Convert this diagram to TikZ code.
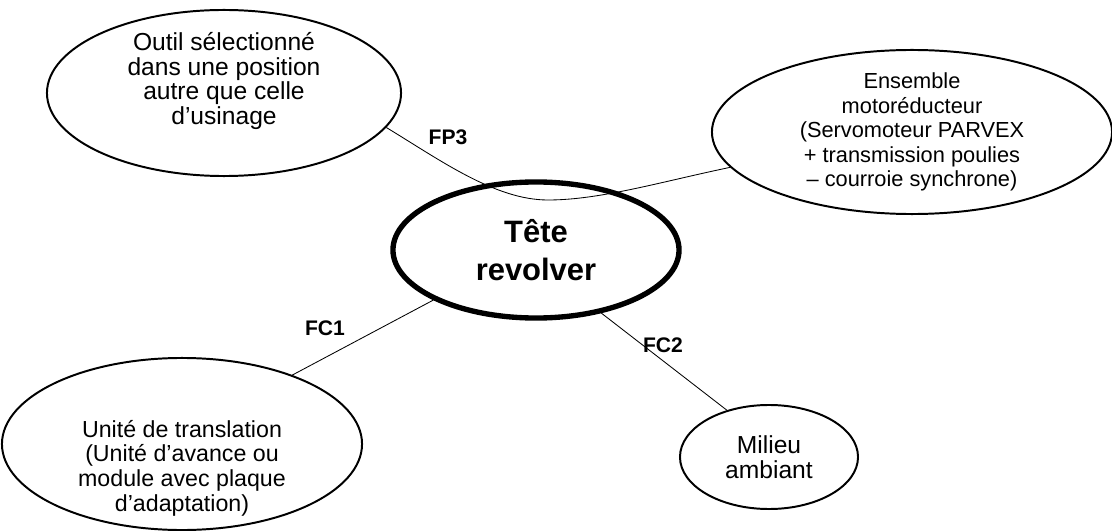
\documentclass[tikz,border=0pt]{standalone}
\usepackage{fontspec}
\setmainfont{Liberation Sans}
\usetikzlibrary{shapes.geometric}
\tikzset{
  ell/.style={ellipse,draw=black,line width=1.4pt,inner sep=0pt},
  hub/.style={ellipse,draw=black,line width=3.8pt,inner sep=0pt},
  txt/.style={align=center,inner sep=0pt,font=\fontsize{#1}{17.5}\selectfont},
  txt/.default=15.5,
  hubtxt/.style={align=center,inner sep=0pt,font=\fontsize{22}{27}\selectfont\bfseries},
  lnk/.style={line width=0.6pt},
  flab/.style={font=\fontsize{15}{17}\selectfont\bfseries},
}
\begin{document}
\begin{tikzpicture}[x=0.025cm,y=-0.025cm]
  \useasboundingbox (0,0) rectangle (1112,531);
  % ellipses
  \node[hub,minimum width=7.15cm,minimum height=3.4cm,
    label={[hubtxt]center:{Tête\\revolver}}] (tete) at (536,250) {};
  \node[ell,minimum width=8.85cm,minimum height=4.15cm,
    label={[txt=17.5,yshift=0.3cm]center:{Outil sélectionné\\dans une position\\autre que celle\\d’usinage}}] (outil) at (224,93) {};
  \node[ell,minimum width=10cm,minimum height=4.1cm,
    label={[txt]center:{Ensemble\\motoréducteur\\(Servomoteur PARVEX\\+ transmission poulies\\– courroie synchrone)}}] (moteur) at (912,132) {};
  \node[ell,minimum width=9cm,minimum height=4.3cm,
    label={[txt=16.5,yshift=-0.6cm]center:{Unité de translation\\(Unité d’avance ou\\module avec plaque\\d’adaptation)}}] (unite) at (182,444) {};
  \node[ell,minimum width=4.45cm,minimum height=2.6cm,
    label={[txt=17.5]center:{Milieu\\ambiant}}] (milieu) at (769,457) {};
  % functions
  \draw[lnk] (outil.-12) .. controls (440,160) and (495,200) .. (548,200)
    .. controls (600,200) and (660,182) .. (moteur.191);
  \draw[lnk] (tete.206) -- (unite.32);
  \draw[lnk] (tete.-44) -- (milieu.132);
  \node[flab] (fp3) at (448,137) {FP3};
  \node[flab] (fc1) at (325,328) {FC1};
  \node[flab] (fc2) at (663,345) {FC2};
\end{tikzpicture}
\end{document}
